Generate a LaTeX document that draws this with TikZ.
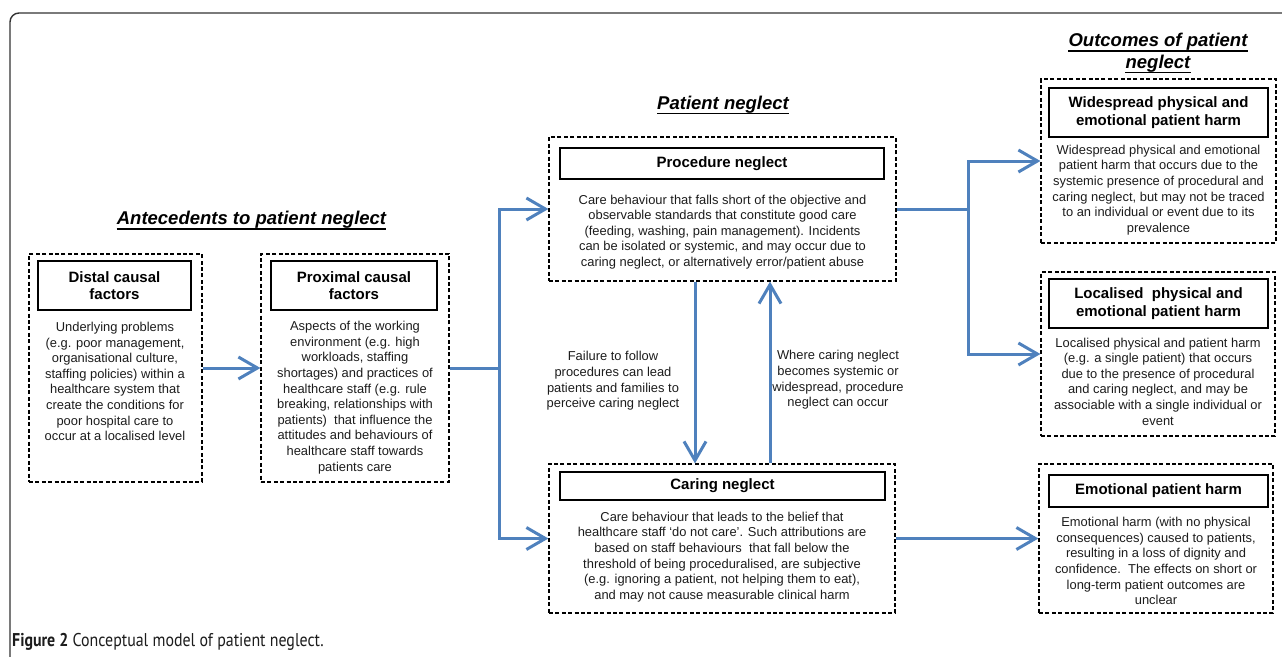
\documentclass[tikz,border=0pt]{standalone}
\usepackage{fontspec}
\setmainfont{Liberation Sans}
\newfontfamily\capfont[FakeStretch=0.86]{PT Sans}
\usetikzlibrary{arrows.meta,calc}
\definecolor{arrblue}{RGB}{79,129,189}
\definecolor{ink}{RGB}{28,28,28}
\begin{document}
\begin{tikzpicture}[x=1pt,y=-1pt,
  dbox/.style={draw=black, line width=1.2pt, dash pattern=on 4pt off 2.4pt, inner sep=0pt},
  tbox/.style={draw=black, line width=1.6pt, inner sep=0pt, align=center, font=\fontsize{15}{17.5}\selectfont\bfseries},
  body/.style={align=center, inner sep=0pt, font=\fontsize{12.9}{15.6}\selectfont, text=ink},
  hdr/.style={inner sep=0pt, font=\fontsize{18.5}{21.5}\selectfont\bfseries\itshape},
  uline/.style={line width=1.7pt},
  conn/.style={draw=arrblue, line width=3pt},
  arr/.style={conn, -{Straight Barb[length=19pt,width=22pt]}},
  frame/.style={draw=black!80, line width=1.4pt, rounded corners=9pt}]

\useasboundingbox (0,0) rectangle (1282,656);
\clip (0,0) rectangle (1282,656);

\draw[frame] (10,670) -- (10,13) -- (1295,13);

% headings
\node[hdr, anchor=base] (hA) at (251.5,224.5) {Antecedents to patient neglect};
\draw[uline] ([yshift=-4.5pt]hA.base west) -- ([yshift=-4.5pt]hA.base east);
\node[hdr, anchor=base] (hP) at (723,109) {Patient neglect};
\draw[uline] ([yshift=-4.5pt]hP.base west) -- ([yshift=-4.5pt]hP.base east);
\node[hdr, anchor=base] (hO1) at (1158,46.5) {Outcomes of patient};
\draw[uline] ([yshift=-4.5pt]hO1.base west) -- ([yshift=-4.5pt]hO1.base east);
\node[hdr, anchor=base] (hO2) at (1158,68) {neglect};
\draw[uline] ([yshift=-4.5pt]hO2.base west) -- ([yshift=-4.5pt]hO2.base east);

% distal
\node[dbox, minimum width=173pt, minimum height=228pt] (distal) at (115.5,368) {};
\node[tbox, minimum width=153pt, minimum height=49pt] (distalT) at (114.5,285.5) {Distal causal\\factors};
\node[body] (distalB) at (115,381.5) {Underlying problems\\(e.g. poor management,\\organisational culture,\\staffing policies) within a\\healthcare system that\\create the conditions for\\poor hospital care to\\occur at a localised level};

% proximal
\node[dbox, minimum width=188pt, minimum height=228pt] (prox) at (355,368) {};
\node[tbox, minimum width=166pt, minimum height=49pt] (proxT) at (354,285.5) {Proximal causal\\factors};
\node[body] (proxB) at (355,397.5) {Aspects of the working\\environment (e.g. high\\workloads, staffing\\shortages) and practices of\\healthcare staff (e.g. rule\\breaking, relationships with\\patients)\ \ that influence the\\attitudes and behaviours of\\healthcare staff towards\\patients care};

% procedure
\node[dbox, minimum width=347pt, minimum height=144pt] (proc) at (722.5,209) {};
\node[tbox, minimum width=324pt, minimum height=31pt] (procT) at (722,163.5) {Procedure neglect};
\node[body] (procB) at (722.5,232) {Care behaviour that falls short of the objective and\\observable standards that constitute good care\\(feeding, washing, pain management). Incidents\\can be isolated or systemic, and may occur due to\\caring neglect, or alternatively error/patient abuse};

% caring
\node[dbox, minimum width=346pt, minimum height=149pt] (care) at (722,538.5) {};
\node[tbox, minimum width=325pt, minimum height=28pt] (careT) at (722.5,486) {Caring neglect};
\node[body] (careB) at (722,557) {Care behaviour that leads to the belief that\\healthcare staff `do not care'. Such attributions are\\based on staff behaviours\ \ that fall below the\\threshold of being proceduralised, are subjective\\(e.g. ignoring a patient, not helping them to eat),\\and may not cause measurable clinical harm};

% widespread
\node[dbox, minimum width=235pt, minimum height=164pt] (wide) at (1158.5,161) {};
\node[tbox, minimum width=219pt, minimum height=49pt] (wideT) at (1158.5,112.5) {Widespread physical and\\emotional patient harm};
\node[body] (wideB) at (1158.5,190) {Widespread physical and emotional\\patient harm that occurs due to the\\systemic presence of procedural and\\caring neglect, but may not be traced\\to an individual or event due to its\\prevalence};

% localised
\node[dbox, minimum width=234pt, minimum height=164pt] (loc) at (1158,354) {};
\node[tbox, minimum width=219pt, minimum height=49pt] (locT) at (1158.5,303.5) {Localised\ \ physical and\\emotional patient harm};
\node[body] (locB) at (1158,381.5) {Localised physical and patient harm\\(e.g. a single patient) that occurs\\due to the presence of procedural\\and caring neglect, and may be\\associable with a single individual or\\event};

% emotional
\node[dbox, minimum width=234pt, minimum height=149pt] (emo) at (1156,538.5) {};
\node[tbox, minimum width=219pt, minimum height=32pt] (emoT) at (1158.5,491) {Emotional patient harm};
\node[body] (emoB) at (1156,561) {Emotional harm (with no physical\\consequences) caused to patients,\\resulting in a loss of dignity and\\confidence.\ \ The effects on short or\\long-term patient outcomes are\\unclear};

% labels
\node[body] (lf) at (613,381) {Failure to follow\\procedures can lead\\patients and families to\\perceive caring neglect};
\node[body] (lw) at (838,380) {Where caring neglect\\becomes systemic or\\widespread, procedure\\neglect can occur};

% connectors
\draw[arr] (distal) -- (prox);
\coordinate (j1) at (499,368);
\draw[conn] (prox.east) -- (j1);
\draw[arr] (j1) |- (proc.west);
\draw[arr] (j1) |- (care.west);
\coordinate (j2) at (968,209);
\draw[conn] (proc.east) -- (j2);
\draw[arr] (j2) |- (wide.west);
\draw[arr] (j2) |- (loc.west);
\draw[arr] (care.east) -- (emo.west);
\draw[arr] ([xshift=-27.5pt]proc.south) -- ([xshift=-27pt]care.north);
\draw[arr] ([xshift=48pt]care.north) -- ([xshift=47.5pt]proc.south);

% caption
\node[anchor=base west, inner sep=0pt, font=\capfont\fontsize{18.5}{22}\selectfont, text=ink] (cap) at (12,646) {\textbf{Figure 2} Conceptual model of patient neglect.};
\end{tikzpicture}
\end{document}
